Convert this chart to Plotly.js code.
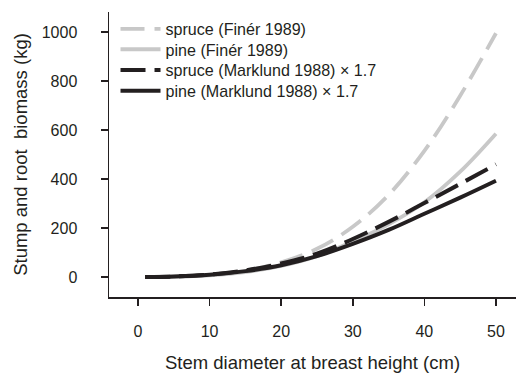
<!DOCTYPE html>
<html>
<head>
<meta charset="utf-8">
<script src="https://cdn.plot.ly/plotly-3.0.1.min.js"></script>
<style>html,body{margin:0;padding:0;background:#fff;}#chart{width:516px;height:373px;}</style>
</head>
<body>
<div id="chart"></div>
<script>
// Stem diameter at breast height (cm)
const dbh = [1, 5, 10, 15, 20, 25, 30, 35, 40, 45, 50];
// Stump and root biomass (kg)
const spruceFiner = [0, 1, 8, 25, 60, 115, 205, 335, 515, 740, 995];
const pineFiner = [0, 1, 7, 20, 45, 85, 145, 215, 305, 430, 585];
const spruceMarklund = [0, 2, 10, 27, 55, 95, 155, 225, 302, 380, 460];
const pineMarklund = [0, 2, 9, 24, 48, 85, 135, 192, 258, 324, 393];
const seriesNames = ["spruce (Finér 1989)", "pine (Finér 1989)", "spruce (Marklund 1988) \u00d7 1.7", "pine (Marklund 1988) \u00d7 1.7"];
const xTicks = [0, 10, 20, 30, 40, 50];
const yTicks = [0, 200, 400, 600, 800, 1000];

const gray = "#c8c8c8";
const dark = "#231f20";
const font = "Liberation Sans, Arial, sans-serif";

const traces = [
  {x: dbh, y: spruceFiner, name: seriesNames[0], legend: "legend", line: {color: gray, width: 3.8, dash: "24px,10px", shape: "spline"}},
  {x: dbh, y: pineFiner, name: seriesNames[1], legend: "legend2", line: {color: gray, width: 3.8, shape: "spline"}},
  {x: dbh, y: spruceMarklund, name: seriesNames[2], legend: "legend3", line: {color: dark, width: 4, dash: "25px,9px", shape: "spline"}},
  {x: dbh, y: pineMarklund, name: seriesNames[3], legend: "legend4", line: {color: dark, width: 4, shape: "spline"}}
].map(t => Object.assign({type: "scatter", mode: "lines", hoverinfo: "skip"}, t));

function legendAt(yTop) {
  return {x: 0.016, y: yTop, xanchor: "left", yanchor: "top", bgcolor: "rgba(0,0,0,0)",
          font: {family: font, size: 16.1, color: dark}, itemwidth: 40};
}

const layout = {
  width: 516, height: 373,
  margin: {l: 109, r: 0, t: 12, b: 76},
  paper_bgcolor: "#fff", plot_bgcolor: "#fff",
  font: {family: font, color: dark, size: 16},
  showlegend: true,
  legend: legendAt(1.0),
  legend2: legendAt(0.9288),
  legend3: legendAt(0.8561),
  legend4: legendAt(0.7835),
  xaxis: {
    range: [-4.05, 52.8], tickmode: "array", tickvals: xTicks, ticktext: xTicks.map(String),
    showline: true, linecolor: dark, linewidth: 1.5, ticks: "outside", ticklen: 7, tickwidth: 1.5, tickcolor: dark,
    showgrid: false, zeroline: false, tickfont: {size: 16, color: dark}, ticklabelstandoff: 12,
    title: {text: "Stem diameter at breast height (cm)", font: {size: 18.5, color: dark}, standoff: 18}
  },
  yaxis: {
    range: [-81.6, 1081.6], tickmode: "array", tickvals: yTicks, ticktext: yTicks.map(String),
    showline: true, linecolor: dark, linewidth: 1.5, ticks: "outside", ticklen: 7, tickwidth: 1.5, tickcolor: dark,
    showgrid: false, zeroline: false, tickfont: {size: 16, color: dark}, ticklabelstandoff: 20,
    title: {text: "Stump and root  biomass (kg)\u00a0\u00a0\u00a0", font: {size: 18.5, color: dark}, standoff: 9}
  }
};

Plotly.newPlot("chart", traces, layout, {staticPlot: true, displayModeBar: false});
</script>
</body>
</html>
